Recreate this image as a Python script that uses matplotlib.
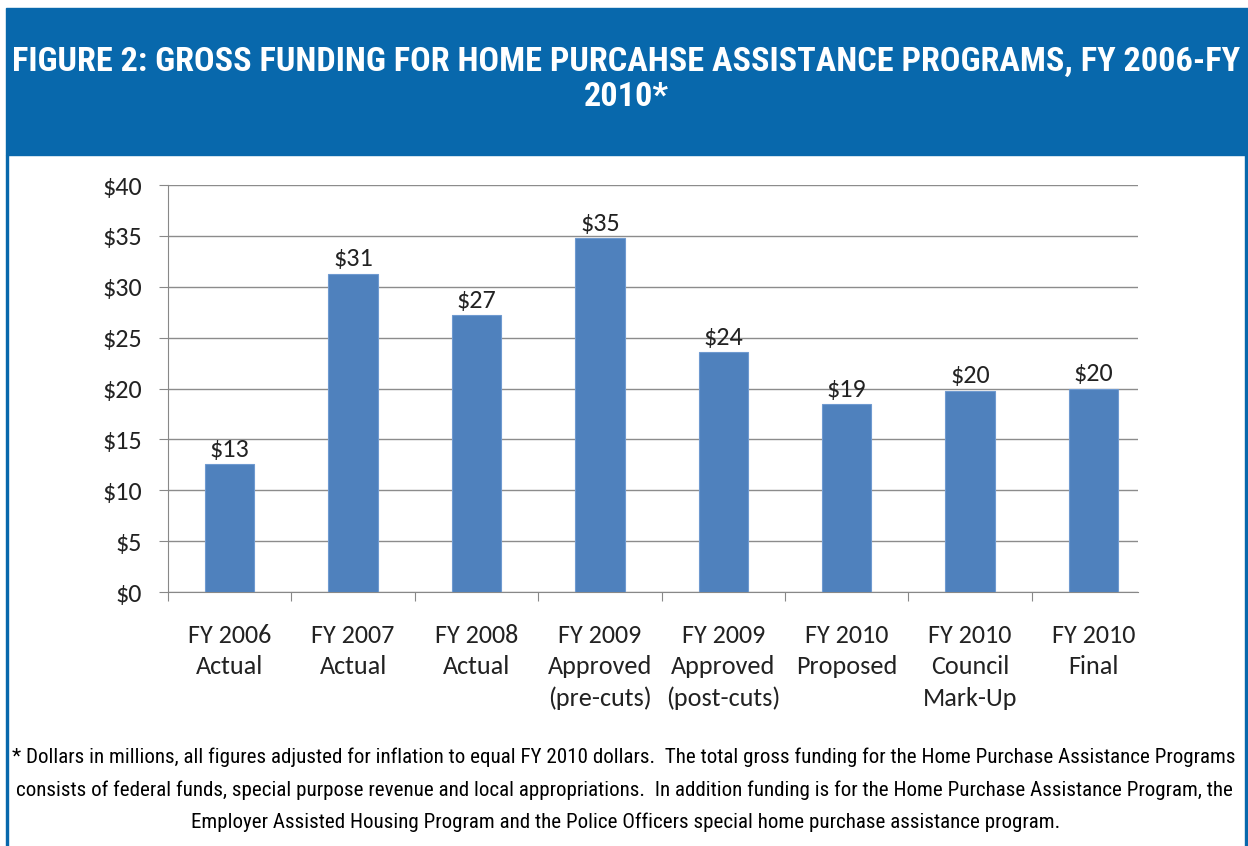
import matplotlib.pyplot as plt
from matplotlib.patches import Rectangle
from matplotlib import font_manager as fm

categories = ["FY 2006\nActual", "FY 2007\nActual", "FY 2008\nActual",
              "FY 2009\nApproved\n(pre-cuts)", "FY 2009\nApproved\n(post-cuts)",
              "FY 2010\nProposed", "FY 2010\nCouncil\nMark-Up", "FY 2010\nFinal"]
values = [12.6, 31.3, 27.2, 34.8, 23.6, 18.5, 19.8, 20.0]
bar_labels = ["$13", "$31", "$27", "$35", "$24", "$19", "$20", "$20"]
yticks = [0, 5, 10, 15, 20, 25, 30, 35, 40]

title_lines = ["FIGURE 2: GROSS FUNDING FOR HOME PURCAHSE ASSISTANCE PROGRAMS, FY 2006-FY",
               "2010*"]
note_lines = ["* Dollars in millions, all figures adjusted for inflation to equal FY 2010 dollars.  "
              "The total gross funding for the Home Purchase Assistance Programs",
              "consists of federal funds, special purpose revenue and local appropriations.  "
              "In addition funding is for the Home Purchase Assistance Program, the",
              "Employer Assisted Housing Program and the Police Officers special home purchase assistance program."]


def pick(cands):
    for name in cands:
        try:
            fm.findfont(fm.FontProperties(family=name), fallback_to_default=False)
            return name
        except Exception:
            pass
    return "DejaVu Sans"


narrow = pick(["Roboto Condensed", "Archivo Narrow", "PT Sans Narrow",
               "Liberation Sans Narrow", "Fira Sans Condensed", "Open Sans Condensed"])
body = pick(["Carlito", "Lato", "Open Sans"])

W, H = 1248, 846
blue = "#0868ac"
fig = plt.figure(figsize=(W / 100, H / 100), dpi=100)
renderer = fig.canvas.get_renderer()


def fit(t, target):
    w = t.get_window_extent(renderer).width
    t.set_fontsize(t.get_fontsize() * target / w)
    return t.get_fontsize()


# header band and side borders
fig.patches.append(Rectangle((6 / W, 1 - 155 / H), 1 - 6 / W, 147 / H,
                             transform=fig.transFigure, color=blue, zorder=0))
fig.patches.append(Rectangle((6 / W, 0), 2 / W, 1 - 155 / H,
                             transform=fig.transFigure, color=blue, zorder=0))
fig.patches.append(Rectangle((1 - 3 / W, 0), 3 / W, 1 - 155 / H,
                             transform=fig.transFigure, color=blue, zorder=0))

t1 = fig.text(626 / W, 1 - 62 / H, title_lines[0], ha="center", va="center",
              color="white", fontsize=20, fontweight="bold", family=narrow)
ts = fit(t1, 1230)
fig.text(626 / W, 1 - 97 / H, title_lines[1], ha="center", va="center",
         color="white", fontsize=ts, fontweight="bold", family=narrow)

n1 = fig.text(624 / W, 1 - 757 / H, note_lines[0], ha="center", va="center",
              color="black", fontsize=12, family=narrow)
ns = fit(n1, 1222)
fig.text(624 / W, 1 - 790 / H, note_lines[1], ha="center", va="center",
         color="black", fontsize=ns, family=narrow)
fig.text(626 / W, 1 - 822 / H, note_lines[2], ha="center", va="center",
         color="black", fontsize=ns, family=narrow)

# size for the chart text from the width of one x label line
probe = fig.text(0, 0, "FY 2006", fontsize=16, family=body)
fs = fit(probe, 84)
probe.remove()
ls = 32 / (0.94 * fs * 100 / 72) * 32 / 29

ax = fig.add_axes([168 / W, 1 - 592 / H, (1138 - 168) / W, (592 - 185) / H])
x = range(len(values))
bars = ax.bar(x, values, width=0.4, color="#4f81bd", edgecolor="#6f9ad0",
              linewidth=0.8, zorder=3)
for b, lab in zip(bars, bar_labels):
    ax.text(b.get_x() + b.get_width() / 2, b.get_height() + 0.3, lab,
            ha="center", va="bottom", fontsize=fs, family=body, color="#222222")

ax.set_ylim(0, 40)
ax.set_xlim(-0.5, 7.36)
ax.set_yticks(yticks)
ax.set_yticklabels(["$%d" % v for v in yticks], fontsize=fs, family=body, color="#222222")
ax.set_xticks([i + 0.5 for i in range(-1, 7)])
ax.set_xticklabels([])
ax.set_xticks(list(x), minor=True)
ax.set_xticklabels(categories, minor=True, fontsize=fs, family=body, color="#222222",
                   linespacing=ls, va="top")
ax.tick_params(axis="x", which="minor", length=0, pad=23)
ax.tick_params(axis="x", which="major", length=6.5, color="#888888", direction="out")
ax.tick_params(axis="y", length=6.5, color="#888888", pad=12)
ax.grid(axis="y", color="#8c8c8c", linewidth=1, zorder=0)
for s in ["top", "right"]:
    ax.spines[s].set_visible(False)
ax.spines["left"].set_color("#888888")
ax.spines["bottom"].set_color("#888888")

fig.savefig("out.png", dpi=100)
